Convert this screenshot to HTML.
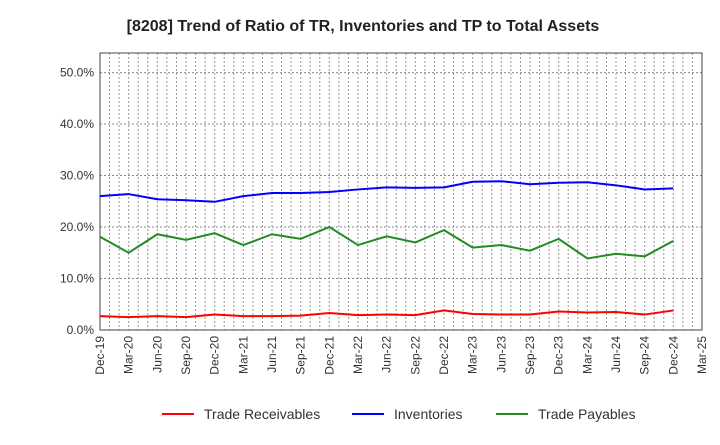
<!DOCTYPE html>
<html><head><meta charset="utf-8"><style>
body{margin:0;background:#fff;font-family:"Liberation Sans",sans-serif;}
svg text{font-family:"Liberation Sans",sans-serif;}
</style></head><body>
<svg id="chart" width="720" height="440">
<text x="363" y="31" text-anchor="middle" font-size="16" font-weight="bold" fill="#222">[8208]  Trend of Ratio of TR, Inventories and TP to Total Assets</text>
<g id="grid"></g><g id="axes"></g><g id="series"></g><g id="legend"></g>
</svg>
<script>
const categories=["Dec-19","Mar-20","Jun-20","Sep-20","Dec-20","Mar-21","Jun-21","Sep-21","Dec-21","Mar-22","Jun-22","Sep-22","Dec-22","Mar-23","Jun-23","Sep-23","Dec-23","Mar-24","Jun-24","Sep-24","Dec-24","Mar-25"];
const receivables=[2.7,2.5,2.7,2.5,3.0,2.7,2.7,2.8,3.3,2.9,3.0,2.9,3.8,3.1,3.0,3.0,3.6,3.4,3.5,3.0,3.8];
const inventories=[26.0,26.4,25.4,25.2,24.9,26.0,26.6,26.6,26.8,27.3,27.7,27.6,27.7,28.8,28.9,28.3,28.6,28.7,28.1,27.3,27.5];
const payables=[18.1,15.0,18.6,17.5,18.8,16.5,18.6,17.7,20.0,16.5,18.2,17.0,19.4,16.0,16.5,15.4,17.7,13.9,14.8,14.3,17.3];
const yTicks=[0,10,20,30,40,50];
const L=100,R=702,T=53,B=330,YMAX=53.8;
const ns="http://www.w3.org/2000/svg";
const xs=i=>L+(R-L)*i/(categories.length-1);
const ys=v=>B-(B-T)*v/YMAX;
function mk(tag,attrs,parent){const e=document.createElementNS(ns,tag);for(const k in attrs)e.setAttribute(k,attrs[k]);parent.appendChild(e);return e;}
const grid=document.getElementById('grid'),axes=document.getElementById('axes'),ser=document.getElementById('series'),leg=document.getElementById('legend');
for(let m=1;m<(categories.length-1)*3;m++){const x=L+(R-L)*m/((categories.length-1)*3);
const g=mk('line',{x1:x,x2:x,y1:T,y2:B,stroke:'#999','stroke-dasharray':'2,2','stroke-width':1},grid);
}
yTicks.forEach(v=>{const y=ys(v);
const g=mk('line',{x1:L,x2:R,y1:y,y2:y,stroke:'#888','stroke-dasharray':'2,2','stroke-width':1},grid);

const t=mk('text',{x:L-6,y:y+4,'text-anchor':'end','font-size':12,fill:'#333'},axes);t.textContent=v.toFixed(1)+'%';
});
const fr=mk('rect',{x:L,y:T,width:R-L,height:B-T,fill:'none',stroke:'#444','stroke-width':1},axes);

categories.forEach((c,i)=>{const x=xs(i);
const t=mk('text',{x:0,y:0,'text-anchor':'end','font-size':12,fill:'#333',transform:`translate(${x+4},${B+6}) rotate(-90)`},axes);t.textContent=c;
});
const series=[["trade-receivables",receivables,"#ff0000","Trade Receivables"],["inventories",inventories,"#0000ff","Inventories"],["trade-payables",payables,"#228b22","Trade Payables"]];
series.forEach(([n,d,c])=>{const p=mk('polyline',{points:d.map((v,i)=>xs(i)+','+ys(v)).join(' '),fill:'none',stroke:c,'stroke-width':2},ser);
});
const lx=[162,352,496];
series.forEach(([n,d,c,label],k)=>{const g=mk('g',{},leg);

mk('line',{x1:lx[k],x2:lx[k]+32,y1:414,y2:414,stroke:c,'stroke-width':2},g);
const t=mk('text',{x:lx[k]+42,y:419,'font-size':14,fill:'#333'},g);t.textContent=label;});
</script>
</body></html>
